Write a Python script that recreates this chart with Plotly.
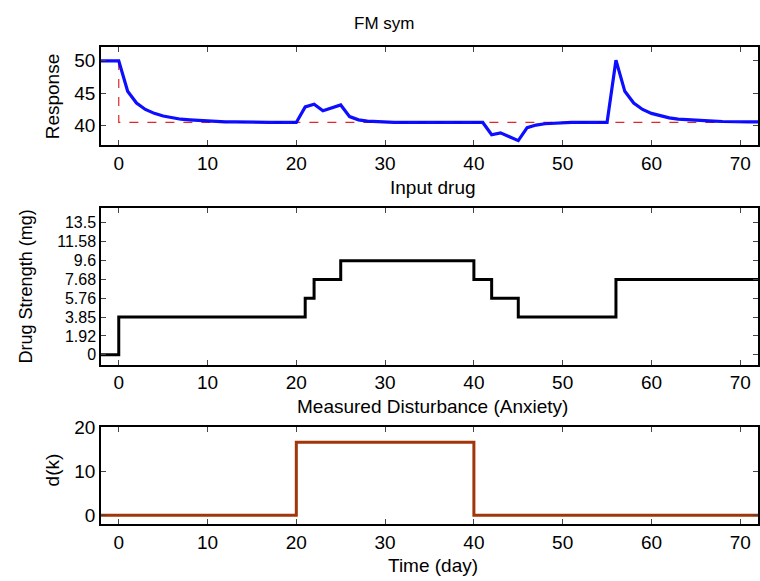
import plotly.graph_objects as go

# ---- data ----
days = list(range(-2, 73))
response = [50, 50, 50,                                                  # -2..0
            45.3, 43.5, 42.5, 41.9, 41.5, 41.2, 41.0, 40.9, 40.8, 40.7,  # 1..10
            40.65, 40.6, 40.6, 40.55, 40.55, 40.5, 40.5, 40.5, 40.5, 40.5,  # 11..20
            42.9, 43.3, 42.3, 42.7, 43.2, 41.4, 40.9, 40.7, 40.6,        # 21..29
            40.55, 40.5, 40.5, 40.5, 40.5, 40.5, 40.5, 40.5, 40.5, 40.5, 40.5, 40.5,  # 30..41
            38.6, 38.9, 38.3, 37.7, 39.7, 40.1, 40.3, 40.4,              # 42..49
            40.45, 40.5, 40.5, 40.5, 40.5, 40.5,                         # 50..55
            50.1, 45.3, 43.5, 42.5, 41.9, 41.5, 41.2, 41.0, 40.9, 40.8,  # 56..65
            40.75, 40.7, 40.65, 40.6, 40.6, 40.6, 40.6]                  # 66..72
ref_x = [-2, 0, 0, 72]
ref_y = [50, 50, 40.5, 40.5]

drug_x = [-2, 0, 21, 22, 25, 40, 42, 45, 56, 72]
drug_y = [0, 3.85, 5.76, 7.68, 9.6, 7.68, 5.76, 3.85, 7.68, 7.68]
drug_ticks = [0, 1.92, 3.85, 5.76, 7.68, 9.6, 11.58, 13.5]
drug_ticklabels = ["0", "1.92", "3.85", "5.76", "7.68", "9.6", "11.58", "13.5"]

dist_x = [-2, 20, 40, 72]
dist_y = [0, 16.6, 0, 0]

x_ticks = [0, 10, 20, 30, 40, 50, 60, 70]

FONT = "Liberation Sans, Arial, sans-serif"
H = 581.0
TICK_SIZE = 19
LABEL_SIZE = 19

fig = go.Figure()
fig.add_trace(go.Scatter(x=ref_x, y=ref_y, mode="lines",
                         line=dict(color="rgb(225,40,40)", width=1.2, dash="dash"),
                         xaxis="x", yaxis="y", showlegend=False))
fig.add_trace(go.Scatter(x=days, y=response, mode="lines",
                         line=dict(color="#0000ff", width=3.2),
                         opacity=0.95,
                         xaxis="x", yaxis="y", showlegend=False))
fig.add_trace(go.Scatter(x=drug_x, y=drug_y, mode="lines", line_shape="hv",
                         line=dict(color="black", width=3),
                         xaxis="x2", yaxis="y2", showlegend=False))
fig.add_trace(go.Scatter(x=dist_x, y=dist_y, mode="lines", line_shape="hv",
                         line=dict(color="#a0360a", width=3),
                         xaxis="x3", yaxis="y3", showlegend=False))

def dom(top, bottom):
    return [1 - bottom / H, 1 - top / H]

xcommon = dict(range=[-2, 72], tickvals=x_ticks, showline=True, linecolor="black",
               linewidth=1.5, mirror="ticks", ticks="inside", ticklen=5,
               tickcolor="#444", showgrid=False, zeroline=False,
               tickfont=dict(size=TICK_SIZE, color="black", family=FONT))
ycommon = dict(showline=True, linecolor="black", linewidth=1.5, mirror="ticks",
               ticks="inside", ticklen=5, tickcolor="#444", showgrid=False,
               zeroline=False)

fig.update_layout(
    width=760, height=581,
    margin=dict(l=101, r=0, t=0, b=0),
    plot_bgcolor="white", paper_bgcolor="white",
    font=dict(family=FONT, size=LABEL_SIZE, color="black"),
    xaxis=dict(**xcommon, domain=[0, 1], anchor="y"),
    yaxis=dict(**ycommon, domain=dom(38, 138), range=[37, 52.1],
               tickvals=[40, 45, 50],
               tickfont=dict(size=TICK_SIZE, color="black", family=FONT)),
    xaxis2=dict(**xcommon, domain=[0, 1], anchor="y2"),
    yaxis2=dict(**ycommon, domain=dom(202, 362), range=[-1, 15],
                tickvals=drug_ticks, ticktext=drug_ticklabels,
                tickfont=dict(size=16, color="black", family=FONT)),
    xaxis3=dict(**xcommon, domain=[0, 1], anchor="y3"),
    yaxis3=dict(**ycommon, domain=dom(426, 525), range=[-2, 20],
                tickvals=[0, 10, 20],
                tickfont=dict(size=TICK_SIZE, color="black", family=FONT)),
)

def ann(text, x, y, angle=0, size=LABEL_SIZE):
    fig.add_annotation(text=text, x=x, y=1 - y / H, xref="paper", yref="paper",
                       xanchor="center", yanchor="middle", showarrow=False,
                       textangle=angle, font=dict(size=size, color="black", family=FONT))

def px(p):
    return (p - 101) / 659.0

ann("FM sym", px(385), 14, size=17)
ann("Input drug", px(434), 181)
ann("Measured Disturbance (Anxiety)", px(434), 405)
ann("Time (day)", px(434), 567)
ann("Response", px(52), 88, -90)
ann("Drug Strength (mg)", px(26), 282, -90, size=18)
ann("d(k)", px(52), 470, -90)

fig.write_html("out.html")
